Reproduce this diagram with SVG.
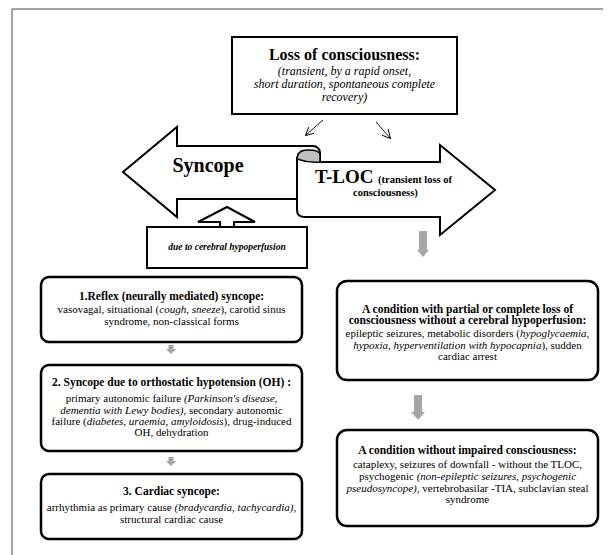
<svg xmlns="http://www.w3.org/2000/svg" width="612" height="555" viewBox="0 0 612 555" font-family="'Liberation Serif', 'DejaVu Serif', serif">
  <style>
    text { font-family: "Liberation Serif", "DejaVu Serif", serif; fill: #000; }
    .t { font-size: 11.5px; font-weight: bold; text-anchor: middle; }
    .b { font-size: 11px; text-anchor: middle; }
    .i { font-style: italic; }
    .box { fill: #fff; stroke: #000; stroke-width: 2.5; }
    .blk { fill: #fff; stroke: #000; stroke-width: 2; stroke-linejoin: miter; }
    .thin { fill: none; stroke: #000; stroke-width: 0.9; }
    .gray { fill: #a6a6a6; }
  </style>
  <defs>
    <marker id="open" viewBox="0 0 10 10" refX="9" refY="5" markerWidth="9" markerHeight="9" orient="auto" markerUnits="userSpaceOnUse">
      <path d="M0,0 L10,5 L0,10" fill="none" stroke="#000" stroke-width="1"/>
    </marker>
  </defs>
  <rect width="612" height="555" fill="#fff"/>

  <!-- frame -->
  <path d="M12,555 L12,9 L603,9" fill="none" stroke="#444" stroke-width="1"/>

  <!-- heading box -->
  <g id="loss">
    <rect x="232" y="37" width="225" height="77" fill="#fff" stroke="#000" stroke-width="2"/>
    <text x="344.5" y="60" font-family="Liberation Serif, serif" style="font-size:16px;font-weight:bold;text-anchor:middle">Loss of consciousness:</text>
    <text x="344.5" y="75" class="i" style="font-size:12px;text-anchor:middle">(transient, by a rapid onset,</text>
    <text x="344.5" y="88" class="i" style="font-size:12px;text-anchor:middle">short duration, spontaneous complete</text>
    <text x="344.5" y="101" class="i" style="font-size:12px;text-anchor:middle">recovery)</text>
  </g>

  <!-- Syncope / T-LOC double scroll arrow -->
  <g id="syncope">
    <path class="blk" d="M123,172 L177,127 L177,146 L313,146 A7,7 0 0 1 320,153 L320,199 L177,199 L177,217 Z"/>
    <text x="208" y="172" style="font-size:20px;font-weight:bold;text-anchor:middle">Syncope</text>
  </g>
  <g id="tloc">
    <path class="blk" d="M297,158 L297,210 Q297,217 305,217 L440,217 L440,235 L495,190 L440,145 L440,162 L320,162 L320,158 Z"/>
    <path d="M297,159 Q297,150 308,150 Q320,150 320,155 L320,162 Q308,163 297,159 Z" fill="#c0c0c0" stroke="#000" stroke-width="1.5"/>
    <text x="315" y="183" style="font-size:19px;font-weight:bold">T-LOC</text>
    <text x="378" y="183" style="font-size:10.5px;font-weight:bold">(transient loss of</text>
    <text x="353" y="196" style="font-size:10.5px;font-weight:bold">consciousness)</text>
  </g>

  <!-- cause box with up arrow -->
  <g id="hypoperfusion">
    <path class="blk" d="M227,207 L255,222 L234,222 L234,227 L220,227 L220,222 L198,222 Z"/>
    <rect x="147" y="227" width="160" height="41" fill="#fff" stroke="#000" stroke-width="2"/>
    <text x="227" y="250" style="font-size:9.5px;font-weight:bold;font-style:italic;text-anchor:middle">due to cerebral hypoperfusion</text>
  </g>

  <!-- left column -->
  <g id="reflex">
    <rect class="box" x="41" y="277" width="261" height="65" rx="8"/>
    <text class="t" x="171.5" y="300">1.Reflex (neurally mediated) syncope:</text>
    <text class="b" x="171.5" y="313">vasovagal, situational (<tspan class="i">cough</tspan>, <tspan class="i">sneeze</tspan>), carotid sinus</text>
    <text class="b" x="171.5" y="325">syndrome, non-classical forms</text>
  </g>
  <g id="orthostatic">
    <rect class="box" x="41" y="365" width="261" height="86" rx="8"/>
    <text class="t" x="171.5" y="386">2. Syncope due to orthostatic hypotension (OH) :</text>
    <text class="b" x="171.5" y="402">primary autonomic failure <tspan class="i">(Parkinson's disease,</tspan></text>
    <text class="b" x="171.5" y="413.5"><tspan class="i">dementia with Lewy bodies)</tspan>, secondary autonomic</text>
    <text class="b" x="171.5" y="425">failure (<tspan class="i">diabetes, uraemia, amyloidosis</tspan>), drug-induced</text>
    <text class="b" x="171.5" y="436">OH, dehydration</text>
  </g>
  <g id="cardiac">
    <rect class="box" x="41" y="474" width="261" height="65" rx="8"/>
    <text class="t" x="171.5" y="495">3. Cardiac syncope:</text>
    <text class="b" x="171.5" y="511">arrhythmia as primary cause <tspan class="i">(bradycardia, tachycardia)</tspan>,</text>
    <text class="b" x="171.5" y="522.5">structural cardiac cause</text>
  </g>

  <!-- right column -->
  <g id="partial-loss">
    <rect class="box" x="337" y="281" width="261" height="99" rx="10"/>
    <text class="t" x="467.5" y="313">A condition with partial or complete loss of</text>
    <text class="t" x="467.5" y="324">consciousness without a cerebral hypoperfusion:</text>
    <text class="b" x="467.5" y="337">epileptic seizures, metabolic disorders (<tspan class="i">hypoglycaemia,</tspan></text>
    <text class="b" x="467.5" y="348.5"><tspan class="i">hypoxia, hyperventilation with hypocapnia</tspan>), sudden</text>
    <text class="b" x="467.5" y="359.5">cardiac arrest</text>
  </g>
  <g id="unimpaired">
    <rect class="box" x="337" y="430" width="261" height="96" rx="10"/>
    <text class="t" x="467.5" y="454">A condition without impaired consciousness:</text>
    <text class="b" x="467.5" y="468">cataplexy, seizures of downfall - without the TLOC,</text>
    <text class="b" x="467.5" y="480">psychogenic  <tspan class="i">(non-epileptic seizures, psychogenic</tspan></text>
    <text class="b" x="467.5" y="491.5"><tspan class="i">pseudosyncope),</tspan> vertebrobasilar -TIA, subclavian steal</text>
    <text class="b" x="467.5" y="502.5">syndrome</text>
  </g>

  <!-- connectors -->
  <g id="connectors">
    <line class="thin" x1="323" y1="120" x2="306" y2="135" marker-end="url(#open)"/>
    <line class="thin" x1="376" y1="122" x2="390" y2="138" marker-end="url(#open)"/>
    <path class="gray" d="M419,231 L427,231 L427,250 L429,250 L423,257 L417,250 L419,250 Z"/>
    <path class="gray" d="M414,395 L422,395 L422,412 L425,412 L418,420 L411,412 L414,412 Z"/>
    <path class="gray" d="M168.5,345 L173.5,345 L173.5,349 L176,349 L171,354 L166,349 L168.5,349 Z"/>
    <path class="gray" d="M168.5,457 L173.5,457 L173.5,461 L176,461 L171,466 L166,461 L168.5,461 Z"/>
  </g>
</svg>
